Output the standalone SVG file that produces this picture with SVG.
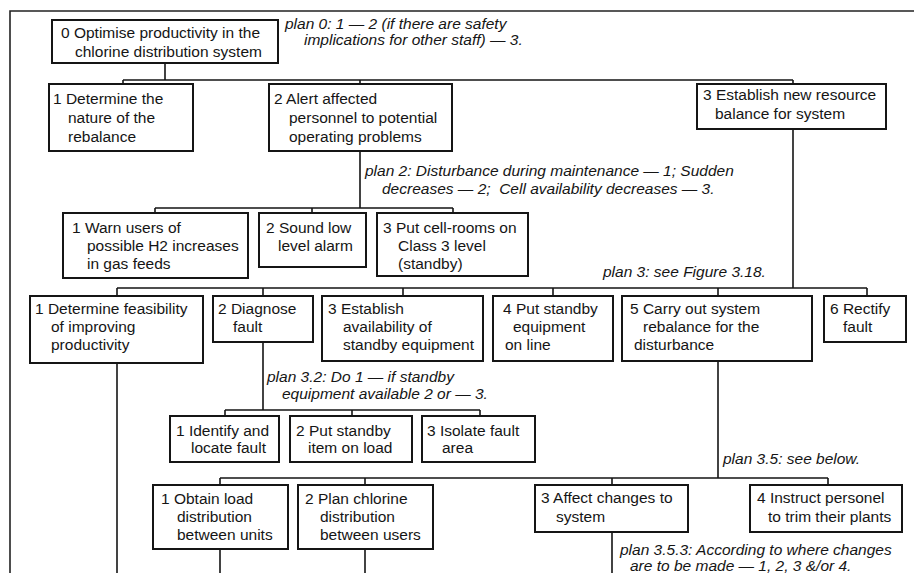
<svg xmlns="http://www.w3.org/2000/svg" width="914" height="573" viewBox="0 0 914 573">
<style>
  .bg { fill: #ffffff; }
  .frame { stroke: #222; stroke-width: 1.6; fill: none; }
  .node rect { fill: #ffffff; stroke: #151515; stroke-width: 2; }
  text { font-family: "Liberation Sans", Arial, Helvetica, sans-serif; font-size: 15.5px; fill: #151515; }
  .plan { font-style: italic; white-space: pre; }
  .conn path { stroke: #151515; stroke-width: 1.6; fill: none; }
</style>
<rect class="bg" x="0" y="0" width="914" height="573"/>
<path class="frame" d="M10,573 V11 H914"/>

<g id="connectors" class="conn">
  <path d="M165,63 V80 M123,80 H793 M123,80 V84 M360,80 V84 M793,80 V84"/>
  <path d="M793,129 V288"/>
  <path d="M360,151 V208 M155,208 H453 M155,208 V213 M312,208 V213 M453,208 V213"/>
  <path d="M117,288 H867 M117,288 V296 M263,288 V296 M403,288 V296 M553,288 V296 M718,288 V296 M867,288 V296"/>
  <path d="M117,363 V573"/>
  <path d="M263,342 V410 M225,410 H480 M225,410 V416 M352,410 V416 M480,410 V416"/>
  <path d="M718,361 V478 M220,478 H828 M220,478 V485 M365,478 V485 M612,478 V485 M828,478 V485"/>
  <path d="M220,549 V573 M365,549 V573 M612,532 V573"/>
</g>

<g id="plan0"><text class="plan" x="285" y="29">plan 0: 1 — 2 (if there are safety</text><text class="plan" x="304" y="45">implications for other staff) — 3.</text></g>
<g id="plan2"><text class="plan" x="365" y="176">plan 2: Disturbance during maintenance — 1; Sudden</text><text class="plan" x="382" y="194">decreases — 2;  Cell availability decreases — 3.</text></g>
<g id="plan3"><text class="plan" x="603" y="277">plan 3: see Figure 3.18.</text></g>
<g id="plan32"><text class="plan" x="267" y="382">plan 3.2: Do 1 — if standby</text><text class="plan" x="282" y="399">equipment available 2 or — 3.</text></g>
<g id="plan35"><text class="plan" x="723" y="464">plan 3.5: see below.</text></g>
<g id="plan353"><text class="plan" x="620" y="555">plan 3.5.3: According to where changes</text><text class="plan" x="630" y="571">are to be made — 1, 2, 3 &amp;/or 4.</text></g>

<g id="n0" class="node"><rect x="52" y="20" width="226" height="43"/><text x="61" y="38">0 Optimise productivity in the</text><text x="75" y="57">chlorine distribution system</text></g>

<g id="n1" class="node"><rect x="49" y="84" width="144" height="67"/><text x="53" y="104">1 Determine the</text><text x="68" y="123">nature of the</text><text x="68" y="142">rebalance</text></g>
<g id="n2" class="node"><rect x="269" y="84" width="183" height="67"/><text x="274" y="104">2 Alert affected</text><text x="289" y="123">personnel to potential</text><text x="289" y="142">operating problems</text></g>
<g id="n3" class="node"><rect x="697" y="84" width="189" height="45"/><text x="703" y="100">3 Establish new resource</text><text x="715" y="119">balance for system</text></g>

<g id="n2_1" class="node"><rect x="63" y="213" width="185" height="65"/><text x="72" y="233">1 Warn users of</text><text x="87" y="251">possible H2 increases</text><text x="87" y="269">in gas feeds</text></g>
<g id="n2_2" class="node"><rect x="259" y="213" width="107" height="54"/><text x="266" y="233">2 Sound low</text><text x="278" y="251">level alarm</text></g>
<g id="n2_3" class="node"><rect x="377" y="213" width="151" height="63"/><text x="383" y="233">3 Put cell-rooms on</text><text x="398" y="251">Class 3 level</text><text x="398" y="269">(standby)</text></g>

<g id="n3_1" class="node"><rect x="30" y="296" width="173" height="67"/><text x="35" y="314">1 Determine feasibility</text><text x="51" y="332">of improving</text><text x="51" y="350">productivity</text></g>
<g id="n3_2" class="node"><rect x="213" y="296" width="100" height="46"/><text x="218" y="314">2 Diagnose</text><text x="233" y="332">fault</text></g>
<g id="n3_3" class="node"><rect x="322" y="296" width="161" height="65"/><text x="328" y="314">3 Establish</text><text x="343" y="332">availability of</text><text x="343" y="350">standby equipment</text></g>
<g id="n3_4" class="node"><rect x="493" y="296" width="120" height="65"/><text x="503" y="314">4 Put standby</text><text x="513" y="332">equipment</text><text x="505" y="350">on line</text></g>
<g id="n3_5" class="node"><rect x="622" y="296" width="190" height="65"/><text x="630" y="314">5 Carry out system</text><text x="643" y="332">rebalance for the</text><text x="634" y="350">disturbance</text></g>
<g id="n3_6" class="node"><rect x="824" y="296" width="82" height="46"/><text x="830" y="314">6 Rectify</text><text x="843" y="332">fault</text></g>

<g id="n3_2_1" class="node"><rect x="170" y="416" width="109" height="46"/><text x="176" y="436">1 Identify and</text><text x="191" y="453">locate fault</text></g>
<g id="n3_2_2" class="node"><rect x="290" y="416" width="122" height="46"/><text x="296" y="436">2 Put standby</text><text x="308" y="453">item on load</text></g>
<g id="n3_2_3" class="node"><rect x="422" y="416" width="113" height="46"/><text x="427" y="436">3 Isolate fault</text><text x="442" y="453">area</text></g>

<g id="n3_5_1" class="node"><rect x="153" y="485" width="135" height="64"/><text x="161" y="504">1 Obtain load</text><text x="177" y="522">distribution</text><text x="177" y="540">between units</text></g>
<g id="n3_5_2" class="node"><rect x="298" y="485" width="135" height="64"/><text x="305" y="504">2 Plan chlorine</text><text x="320" y="522">distribution</text><text x="320" y="540">between users</text></g>
<g id="n3_5_3" class="node"><rect x="535" y="485" width="153" height="47"/><text x="541" y="503">3 Affect changes to</text><text x="556" y="522">system</text></g>
<g id="n3_5_4" class="node"><rect x="750" y="485" width="152" height="47"/><text x="757" y="503">4 Instruct personel</text><text x="768" y="522">to trim their plants</text></g>
</svg>
